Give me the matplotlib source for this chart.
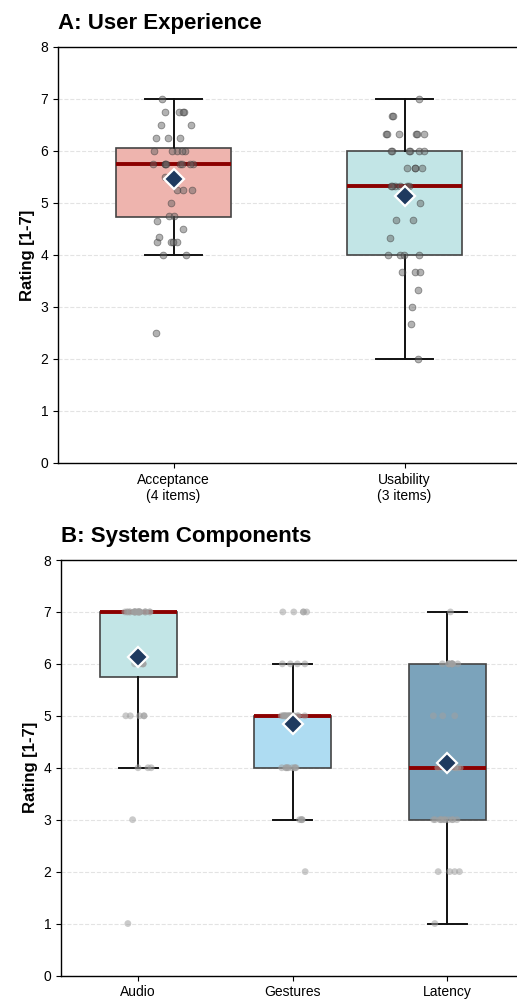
import numpy as np
import matplotlib
matplotlib.use("Agg")
import matplotlib.pyplot as plt

plt.rcParams['font.family'] = ['Liberation Sans', 'DejaVu Sans']

# ---------------- data ----------------
ux_labels = ["Acceptance\n(4 items)", "Usability\n(3 items)"]
acceptance = ([2.5] + [4.0] * 2 + [4.25] * 4 + [4.34, 4.5, 4.66] + [4.75] * 2 + [5.0]
              + [5.25] * 3 + [5.5] + [5.75] * 8 + [6.0] * 5 + [6.25] * 3 + [6.5] * 2
              + [6.75] * 4 + [7.0])
usability = ([2.0, 2.67, 3.0, 3.33] + [3.67] * 3 + [4.0] * 4 + [4.33] + [4.67] * 2 + [5.0]
             + [5.33] * 6 + [5.67] * 4 + [6.0] * 6 + [6.33] * 6 + [6.67] * 2 + [7.0])

comp_labels = ["Audio", "Gestures", "Latency"]
audio = [1, 3] + [4] * 3 + [5] * 5 + [6] * 6 + [7] * 24
gestures = [2] + [3] * 4 + [4] * 9 + [5] * 17 + [6] * 4 + [7] * 5
latency = [1] + [2] * 4 + [3] * 11 + [4] * 10 + [5] * 3 + [6] * 10 + [7]

ux_data = [acceptance, usability]
comp_data = [audio, gestures, latency]
ux_colors = ["#EEB4AE", "#C2E5E6"]
comp_colors = ["#C2E5E6", "#AEDCF2", "#7BA3BB"]

rng = np.random.default_rng(3)


def panel(ax, data, labels, colors, title, pt_color, pt_alpha, pt_edge):
    pos = np.arange(len(data))
    bp = ax.boxplot(data, positions=pos, widths=0.5, patch_artist=True,
                    showfliers=False, whis=1.5,
                    medianprops=dict(color="#8B0000", linewidth=2.8),
                    whiskerprops=dict(color="#111111", linewidth=1.4),
                    capprops=dict(color="#111111", linewidth=1.4),
                    boxprops=dict(edgecolor="#444444", linewidth=1.2),
                    capwidths=0.25)
    for patch, c in zip(bp["boxes"], colors):
        patch.set_facecolor(c)
        patch.set_zorder(2)
    for i, d in enumerate(data):
        d = np.asarray(d, dtype=float)
        jx = pos[i] + rng.uniform(-0.09, 0.09, len(d))
        ax.scatter(jx, d, s=24, color=pt_color, alpha=pt_alpha,
                   edgecolors=pt_edge, linewidths=0.6, zorder=4)
        ax.plot(pos[i], d.mean(), marker="D", ms=10, color="#1F3A5F",
                mec="white", mew=1.6, zorder=6, ls="none")
    ax.set_xticks(pos)
    ax.set_xticklabels(labels, fontsize=10)
    ax.set_xlim(-0.5, len(data) - 0.5)
    ax.set_ylim(0, 8)
    ax.set_yticks(range(0, 9))
    ax.tick_params(axis="y", labelsize=10)
    ax.set_ylabel("Rating [1-7]", fontsize=12, fontweight="bold")
    ax.set_title(title, loc="left", fontsize=16, fontweight="bold", pad=13)
    ax.yaxis.grid(True, linestyle="--", color="#dddddd", linewidth=0.8, alpha=0.8)
    ax.set_axisbelow(True)
    for sp in ax.spines.values():
        sp.set_linewidth(1.0)


fig = plt.figure(figsize=(5.17, 10.02), dpi=100)
axA = fig.add_axes([58 / 517, 1 - 463 / 1002, (520 - 58) / 517, 416 / 1002])
axB = fig.add_axes([61 / 517, 1 - 975.5 / 1002, (524.5 - 61) / 517, 415.5 / 1002])

panel(axA, ux_data, ux_labels, ux_colors, "A: User Experience", "#666666", 0.5, "#333333")
panel(axB, comp_data, comp_labels, comp_colors, "B: System Components", "#a0a0a0", 0.55, "none")

fig.savefig("out.png", dpi=100)
